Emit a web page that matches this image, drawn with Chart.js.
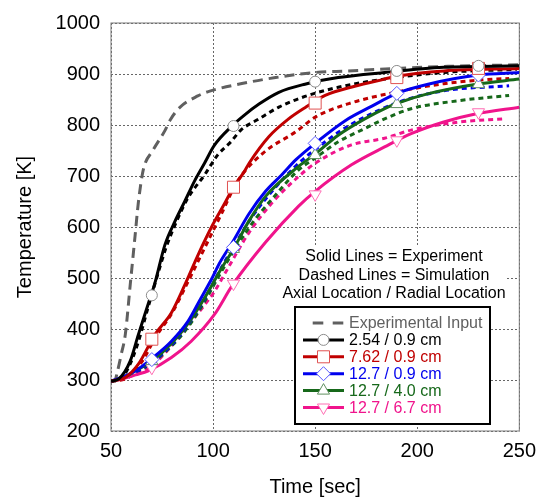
<!DOCTYPE html>
<html>
<head>
<meta charset="utf-8">
<script src="https://cdn.jsdelivr.net/npm/chart.js@4.4.1/dist/chart.umd.min.js"></script>
<style>
  body { margin: 0; background: #fff; }
  canvas { display: block; }
</style>
</head>
<body>
<canvas id="grafica" width="544" height="499"></canvas>
<script>
// datos (tiempo en s, temperatura en K)
var tInput = [50, 52, 53, 55, 57, 59.4, 61.8, 63.4, 65.8, 70.5, 76.4, 79, 83.6, 92.5, 98, 117.6, 130.6, 150, 166, 190, 215, 250];
var TInput = [298, 300, 314, 350, 389, 486, 583, 648, 712, 750, 789, 810, 834, 857, 866, 884, 893, 903, 906, 911, 915, 918];

var tExp1 = [50, 53.7, 59.4, 63.4, 68.3, 71.5, 76.4, 81.2, 86.1, 90.9, 95.8, 100.6, 109.5, 115.2, 122.5, 132.2, 145, 161.3, 184, 213, 250];
var TExp1 = [298, 302, 337, 389, 450, 490, 565, 610, 650, 690, 725, 760, 799, 819, 841, 864, 880, 893, 903, 913, 916];
var tSim1 = [50, 54, 58, 63, 68, 72, 77, 82, 87.7, 95.8, 102.2, 108.7, 113.6, 122.5, 132.2, 145, 161.3, 184, 213, 248.7];
var TSim1 = [298, 300, 320, 370, 440, 495, 560, 610, 657, 702, 741, 767, 790, 812, 835, 856, 874, 890, 903, 909];

var tExp2 = [50, 57, 63.4, 71.5, 79.6, 86.1, 92.5, 99, 105.5, 110, 115.2, 117.8, 127.3, 137, 145, 154.9, 169.4, 184, 190.4, 213, 250];
var TExp2 = [298, 305, 331, 389, 432, 486, 544, 598, 645, 678, 708, 726, 777, 812, 834, 858, 876, 890, 896, 906, 911];
var tSim2 = [50, 57, 65, 72, 80, 88, 96, 104, 112, 124.5, 140.6, 150.3, 166.5, 189, 213, 237.7, 245];
var TSim2 = [298, 302, 335, 385, 432, 495, 560, 625, 690, 745, 787, 816, 842, 864, 881, 890, 891];

var tExp3 = [50, 55.3, 62, 70, 79.6, 87.7, 93.3, 99.8, 103, 109.5, 117.6, 125.7, 133.8, 140.6, 150, 164.9, 177.8, 190, 205.3, 229.6, 250];
var TExp3 = [298, 305, 318, 342, 376, 415, 455, 502, 528, 570, 626, 670, 703, 732, 764, 809, 837, 862, 880, 898, 903];
var tSim3 = [50, 56, 62, 70, 80, 88, 96, 104, 112, 120, 130, 140.6, 150, 165, 190.4, 213, 245];
var TSim3 = [298, 303, 315, 335, 370, 410, 460, 520, 575, 625, 675, 720, 752, 795, 844, 867, 877];

var tExp4 = [50, 56, 62, 70, 80, 88, 96, 104, 110, 117.6, 125.7, 141.9, 150, 161.3, 174.3, 185.6, 190.4, 205, 229, 250];
var TExp4 = [298, 304, 318, 337, 373, 412, 462, 518, 557, 612, 660, 719, 743, 780, 812, 835, 843, 861, 880, 890];
var tSim4 = [50, 56, 62, 70, 80, 88, 96, 104, 112, 120, 130, 141.9, 150, 161.3, 174.3, 184, 197, 221, 245];
var TSim4 = [298, 303, 315, 333, 368, 405, 455, 512, 565, 612, 660, 712, 735, 767, 793, 812, 832, 848, 858];

var tExp5 = [50, 55.3, 62, 68.3, 79.6, 89.3, 100.6, 109.5, 125.7, 141.9, 150, 167.8, 184, 197, 213, 229, 250];
var TExp5 = [298, 302, 310, 318, 344, 376, 428, 486, 570, 641, 670, 722, 757, 783, 806, 822, 835];
var tSim5 = [50, 56, 62, 70, 77, 82.8, 89.3, 95.8, 100.6, 107.1, 117.6, 129, 141.9, 150, 167.8, 184, 197, 221, 243];
var TSim5 = [298, 302, 312, 328, 355, 383, 415, 447, 473, 518, 589, 648, 699, 725, 761, 774, 790, 806, 812];

// marcadores de la figura
var tMarcas = [70, 110, 150, 190, 230];
var mExp1 = [466, 798, 885, 906, 916];
var mExp2 = [380, 678, 843, 893, 911];
var mExp3 = [340, 560, 764, 862, 898];
var mExp4 = [337, 557, 741, 841, 880];
var mExp5 = [324, 489, 664, 770, 825];

var etiquetas = ["Experimental Input", "2.54 / 0.9 cm", "7.62 / 0.9 cm", "12.7 / 0.9 cm", "12.7 / 4.0 cm", "12.7 / 6.7 cm"];
var notas = ["Solid Lines = Experiment", "Dashed Lines = Simulation", "Axial Location / Radial Location"];

var colores = ["#606060", "#000000", "#c00000", "#0000ee", "#16681a", "#f0148c"];
var bordesMarca = ["#8c8c8c", "#e05252", "#5a5aff", "#5f8f5f", "#ff6eb4"];
var estilos = ["circle", "rect", "rectRot", "triangle", "triangle"];
var radios = [5.5, 8.5, 7, 7, 7];
var rotaciones = [0, 0, 0, 0, 180];

var fuente = "'Liberation Sans', Arial, sans-serif";

function pares(ts, vs) {
    var d = [];
    for (var i = 0; i < ts.length; i++) {
        d.push({ x: ts[i], y: vs[i] });
    }
    return d;
}

function linea(ts, vs, color, dash, orden) {
    return {
        data: pares(ts, vs),
        showLine: true,
        borderColor: color,
        borderWidth: 3,
        borderDash: dash,
        pointRadius: 0,
        tension: 0.3,
        cubicInterpolationMode: 'monotone',
        fill: false,
        order: orden
    };
}

function marcas(vs, k) {
    return {
        data: pares(tMarcas, vs),
        showLine: false,
        pointStyle: estilos[k],
        pointRadius: radios[k],
        pointRotation: rotaciones[k],
        pointBackgroundColor: "#ffffff",
        pointBorderColor: bordesMarca[k],
        pointBorderWidth: 1,
        order: 0
    };
}

var exps = [[tExp1, TExp1], [tExp2, TExp2], [tExp3, TExp3], [tExp4, TExp4], [tExp5, TExp5]];
var sims = [[tSim1, TSim1], [tSim2, TSim2], [tSim3, TSim3], [tSim4, TSim4], [tSim5, TSim5]];
var mExps = [mExp1, mExp2, mExp3, mExp4, mExp5];

var datasets = [];
datasets.push(linea(tInput, TInput, colores[0], [10, 6], 3));
for (var k = 0; k < 5; k++) {
    datasets.push(linea(sims[k][0], sims[k][1], colores[k + 1], [5, 4], 2));
    datasets.push(linea(exps[k][0], exps[k][1], colores[k + 1], [], 1));
    datasets.push(marcas(mExps[k], k));
}

//-------------
//- MARCO, NOTAS Y LEYENDA -
//-------------
var marco = {
    id: 'marco',
    beforeDatasetsDraw: function (chart) {
        var ctx = chart.ctx, a = chart.chartArea;
        ctx.save();
        ctx.strokeStyle = "#7a7a7a";
        ctx.lineWidth = 1;
        ctx.strokeRect(a.left, a.top, a.right - a.left, a.bottom - a.top);
        // fondo blanco de las notas
        ctx.fillStyle = "#ffffff";
        ctx.fillRect(283, 246, 222, 59);
        ctx.fillStyle = "#000000";
        ctx.font = "16px " + fuente;
        ctx.textAlign = "center";
        ctx.textBaseline = "middle";
        ctx.fillText(notas[0], 394, 257);
        ctx.fillText(notas[1], 394, 276);
        ctx.fillText(notas[2], 394, 294);
        ctx.restore();
    },
    afterDraw: function (chart) {
        var ctx = chart.ctx;
        ctx.save();
        ctx.fillStyle = "#ffffff";
        ctx.fillRect(295, 307, 195, 117);
        ctx.strokeStyle = "#000000";
        ctx.lineWidth = 2;
        ctx.strokeRect(295, 307, 195, 117);
        ctx.font = "16px " + fuente;
        ctx.textBaseline = "middle";
        ctx.textAlign = "left";
        var y0 = 323, dy = 16.9;
        for (var i = 0; i < etiquetas.length; i++) {
            var y = y0 + i * dy;
            ctx.strokeStyle = colores[i];
            ctx.lineWidth = 3;
            if (i == 0) {
                ctx.setLineDash([10.6, 9.4]);
                ctx.beginPath();
                ctx.moveTo(312.7, y);
                ctx.lineTo(344, y);
                ctx.stroke();
                ctx.setLineDash([]);
            } else {
                ctx.beginPath();
                ctx.moveTo(303, y);
                ctx.lineTo(344, y);
                ctx.stroke();
                var k = i - 1;
                ctx.fillStyle = "#ffffff";
                ctx.strokeStyle = bordesMarca[k];
                ctx.lineWidth = 1;
                Chart.helpers.drawPoint(ctx, {
                    pointStyle: estilos[k],
                    radius: radios[k],
                    rotation: rotaciones[k],
                    borderWidth: 1
                }, 323.5, y);
            }
            ctx.fillStyle = colores[i];
            ctx.fillText(etiquetas[i], 349, y + 1);
        }
        ctx.restore();
    }
};

var grafica = new Chart(document.getElementById("grafica").getContext("2d"), {
    type: 'scatter',
    data: { datasets: datasets },
    options: {
        responsive: false,
        animation: false,
        layout: { padding: { left: 0, right: 21, top: 18, bottom: 0 } },
        plugins: {
            legend: { display: false },
            tooltip: { enabled: false }
        },
        scales: {
            x: {
                type: 'linear',
                min: 50,
                max: 250,
                afterFit: function (s) { s.height = 68; },
                ticks: { stepSize: 50, color: "#000", padding: 8, font: { family: fuente, size: 20 },
                         callback: function (v) { return String(v); } },
                grid: { color: "#666", lineWidth: 1, drawTicks: false },
                border: { display: false, dash: [2, 2] },
                title: { display: true, text: "Time [sec]", color: "#000", padding: 0, font: { family: fuente, size: 20 } }
            },
            y: {
                min: 200,
                max: 1000,
                afterFit: function (s) { s.width = 111; },
                ticks: { stepSize: 100, color: "#000", padding: 11, font: { family: fuente, size: 20 },
                         callback: function (v) { return String(v); } },
                grid: { color: "#666", lineWidth: 1, drawTicks: false },
                border: { display: false, dash: [2, 2] },
                title: { display: true, text: "Temperature [K]", color: "#000", padding: { top: 13, bottom: 0 }, font: { family: fuente, size: 20 } }
            }
        }
    },
    plugins: [marco]
});
</script>
</body>
</html>
